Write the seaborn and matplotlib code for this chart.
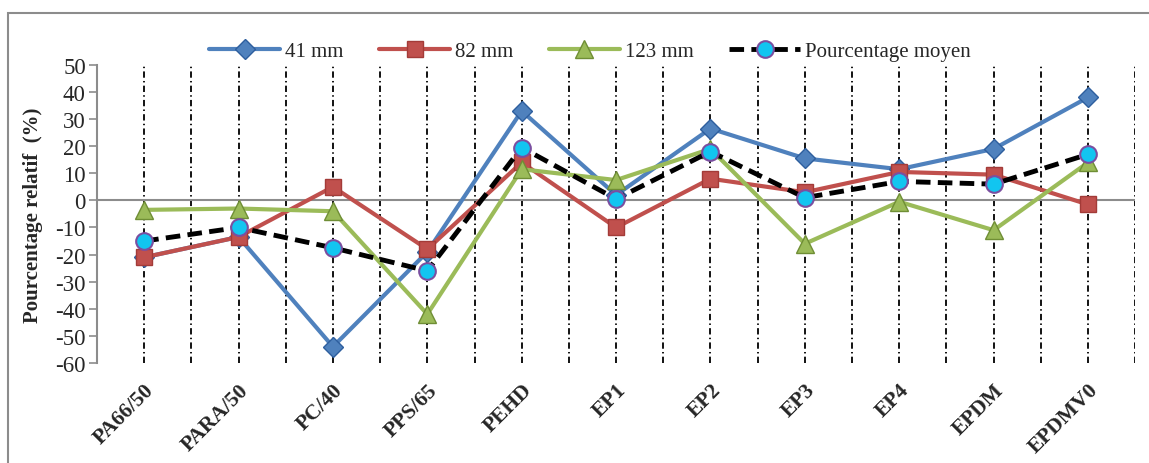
import pandas as pd
import matplotlib.pyplot as plt
import matplotlib.patches as mpatches
import seaborn as sns

# valeurs
materiaux = ['PA66/50', 'PARA/50', 'PC/40', 'PPS/65', 'PEHD', 'EP1', 'EP2',
             'EP3', 'EP4', 'EPDM', 'EPDMV0']
ep_41 = [-21, -13.5, -54, -19, 33, 2, 26.5, 15.5, 11.5, 19, 38]
ep_82 = [-21, -13.5, 5, -18, 14, -10, 8, 3, 10.5, 9.5, -1.5]
ep_123 = [-3.5, -3, -4, -42, 11.5, 7.5, 19, -16, -0.5, -11, 14]
moyen = [-15, -10, -17.5, -26, 19.5, 0.5, 18, 1, 7, 6, 17]
y_ticks = list(range(-60, 51, 10))

sns.set_theme(style="white")
plt.rcParams['font.family'] = ['Liberation Serif', 'DejaVu Serif']

fig = plt.figure(figsize=(11.49, 4.64), dpi=100)
ax = fig.add_axes([0.0844, 0.2155, 0.9036, 0.6425])

# cadre gris autour du graphique
fig.patches.append(mpatches.Rectangle((0.007, -0.2), 1.2, 1.17, transform=fig.transFigure,
                                      fill=False, edgecolor='#8c8c8c', linewidth=1.5))

x = list(range(len(materiaux)))

# lignes verticales en tirets-points
for xv in [i * 0.5 for i in range(0, 22)]:
    ax.axvline(xv, color='black', linestyle=(0, (3.5, 1.8, 0.8, 1.8)), linewidth=1.3, zorder=1)
ax.axhline(0, color='#8c8c8c', linewidth=1.5, zorder=1)

series = [
    ('41 mm', ep_41, '#4F81BD', 'D', '#2E5E9E', 10),
    ('82 mm', ep_82, '#C0504D', 's', '#A33B38', 11),
    ('123 mm', ep_123, '#9BBB59', '^', '#6F8E35', 13),
]
for nom, vals, col, mk, ec, ms in series:
    df = pd.DataFrame({'x': x, 'y': vals})
    sns.lineplot(data=df, x='x', y='y', ax=ax, color=col, linewidth=3, marker=mk,
                 markersize=ms, markerfacecolor=col, markeredgecolor=ec,
                 markeredgewidth=1, label=nom, sort=False, zorder=3)

df_m = pd.DataFrame({'x': x, 'y': moyen})
sns.lineplot(data=df_m, x='x', y='y', ax=ax, color='black', linewidth=3.5,
             linestyle=(0, (3, 1.5)), marker='o', markersize=12,
             markerfacecolor='#12C5F0', markeredgecolor='#7A4FA0', markeredgewidth=1.5,
             label='Pourcentage moyen', sort=False, zorder=4)

ax.set_xlim(-0.5, 10.5)
ax.set_ylim(-60, 50)
ax.set_yticks(y_ticks)
ax.set_yticklabels([str(v) for v in y_ticks], fontsize=16.5)
ax.set_xticks(x)
ax.set_xticklabels(materiaux, rotation=45, ha='right', rotation_mode='anchor',
                   fontsize=15.5, fontweight='bold')
ax.tick_params(axis='x', length=0, pad=12)
ax.tick_params(axis='y', length=6, color='#8c8c8c', width=1.2, direction='out', left=True, pad=2)
ax.set_xlabel('')
ax.set_ylabel('Pourcentage relatif  (%)', fontsize=15, fontweight='bold', labelpad=9)

for s in ['top', 'right', 'bottom']:
    ax.spines[s].set_visible(False)
ax.spines['left'].set_color('#8c8c8c')
ax.spines['left'].set_linewidth(1.5)

ax.legend(loc='center', bbox_to_anchor=(0.475, 1.045), ncol=4, frameon=False,
          fontsize=15, handlelength=3.4, columnspacing=1.7, handletextpad=0.25,
          borderaxespad=0, borderpad=0)

fig.savefig('out.png', dpi=100)
